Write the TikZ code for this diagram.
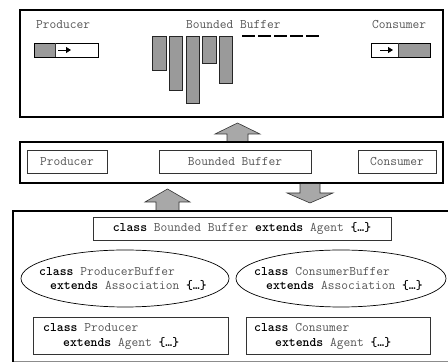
\documentclass[tikz,border=0pt]{standalone}
\usetikzlibrary{shapes.geometric,arrows.meta}
\definecolor{txtgray}{HTML}{555555}
\definecolor{barfill}{HTML}{9A9A9A}
\definecolor{arrfill}{HTML}{A8A8A8}
\newcommand\kw[1]{\textbf{\color{black}#1}}
\begin{document}
\begin{tikzpicture}[x=1pt,y=-1pt,
  font=\ttfamily\fontsize{13.1}{15}\selectfont,
  frame/.style={draw=black, line width=2.6pt},
  inbox/.style={draw=black!80, line width=0.8pt, rectangle, inner sep=0pt, text=txtgray},
  lbl/.style={text=txtgray, inner sep=0pt, anchor=base west},
  bar/.style={draw=black!85, fill=barfill, line width=0.8pt},
  blockarrow/.style={draw=black!80, fill=arrfill, line width=0.6pt},
  ell/.style={draw=black, line width=0.7pt, ellipse, inner sep=0pt},
  smallarr/.style={-{Triangle[length=5pt,width=6pt]}, line width=0.9pt}]
\useasboundingbox (0,0) rectangle (448,363);

% ---------- top box ----------
\draw[frame] (20,10) rectangle (443,117);
\node[lbl] (tprod) at (36,29) {Producer};
\node[lbl] (tbuf) at (186,29) {Bounded Buffer};
\node[lbl] (tcons) at (372,29) {Consumer};

% producer bar
\fill[barfill] (34,43) rectangle (55,57);
\draw[black, line width=0.8pt] (34,43) rectangle (98,57);
\draw[black!80, line width=0.6pt] (55,43) -- (55,57);
\coordinate (pa1) at (58,50);
\coordinate (pa2) at (71,50);
\draw[smallarr] (pa1) -- (pa2);

% consumer bar
\fill[barfill] (398,43) rectangle (430,57);
\draw[black, line width=0.8pt] (371,43) rectangle (430,57);
\draw[black!80, line width=0.6pt] (398,43) -- (398,57);
\coordinate (ca1) at (380,50);
\coordinate (ca2) at (393,50);
\draw[smallarr] (ca1) -- (ca2);

% buffer bars
\draw[bar] (152,36) rectangle (166,70);
\draw[bar] (169,36) rectangle (182,90);
\draw[bar] (186,36) rectangle (199,103);
\draw[bar] (202,36) rectangle (216,63);
\draw[bar] (219,36) rectangle (232,83);
% empty slots
\foreach \s in {242,258,274,290,306}
  \draw[line width=2.6pt] (\s,36) -- (\s+13,36);

% ---------- arrow up to top ----------
\draw[blockarrow] (227,142) -- (227,134) -- (215,134) -- (237.5,123) -- (260,134) -- (248,134) -- (248,142);

% ---------- middle box ----------
\draw[frame] (20,142) rectangle (443,183);
\node[inbox, minimum width=80pt, minimum height=23pt] (mprod) at (67,161.5) {Producer};
\node[inbox, minimum width=152pt, minimum height=23pt] (mbuf) at (235,161.5) {Bounded Buffer};
\node[inbox, minimum width=78pt, minimum height=23pt] (mcons) at (397,161.5) {Consumer};

% ---------- arrows between middle and bottom ----------
\draw[blockarrow] (156,211) -- (156,202) -- (145,202) -- (167.5,189) -- (190,202) -- (179,202) -- (179,211);
\draw[blockarrow] (300,184) -- (300,193) -- (287,193) -- (310,203) -- (333,193) -- (320,193) -- (320,184);

% ---------- bottom box ----------
\draw[black!45, line width=0.8pt] (13,361) -- (448,361);
\draw[line width=2.6pt] (448,211) -- (13,211) -- (13,362);

\node[inbox, minimum width=298pt, minimum height=23pt] (bbuf) at (242,228.5)
  {\kw{class} Bounded Buffer \kw{extends} Agent \kw{\{…\}}};

\node[ell, minimum width=208pt, minimum height=57pt] (epb) at (125,278.5) {};
\node[ell, minimum width=210pt, minimum height=57pt] (ecb) at (341,278.5) {};
\node[lbl] (epb1) at (39,276) {\kw{class} ProducerBuffer};
\node[lbl] (epb2) at (50,290) {\kw{extends} Association \kw{\{…\}}};
\node[lbl] (ecb1) at (254,276) {\kw{class} ConsumerBuffer};
\node[lbl] (ecb2) at (266,290) {\kw{extends} Association \kw{\{…\}}};

\draw[black!80, line width=0.8pt] (33,317) rectangle (228,354);
\node[lbl] (bp1) at (43,332) {\kw{class} Producer};
\node[lbl] (bp2) at (63,347) {\kw{extends} Agent \kw{\{…\}}};

\draw[black!80, line width=0.8pt] (246,317) rectangle (430,354);
\node[lbl] (bc1) at (254,332) {\kw{class} Consumer};
\node[lbl] (bc2) at (275,347) {\kw{extends} Agent \kw{\{…\}}};
\end{tikzpicture}
\end{document}
